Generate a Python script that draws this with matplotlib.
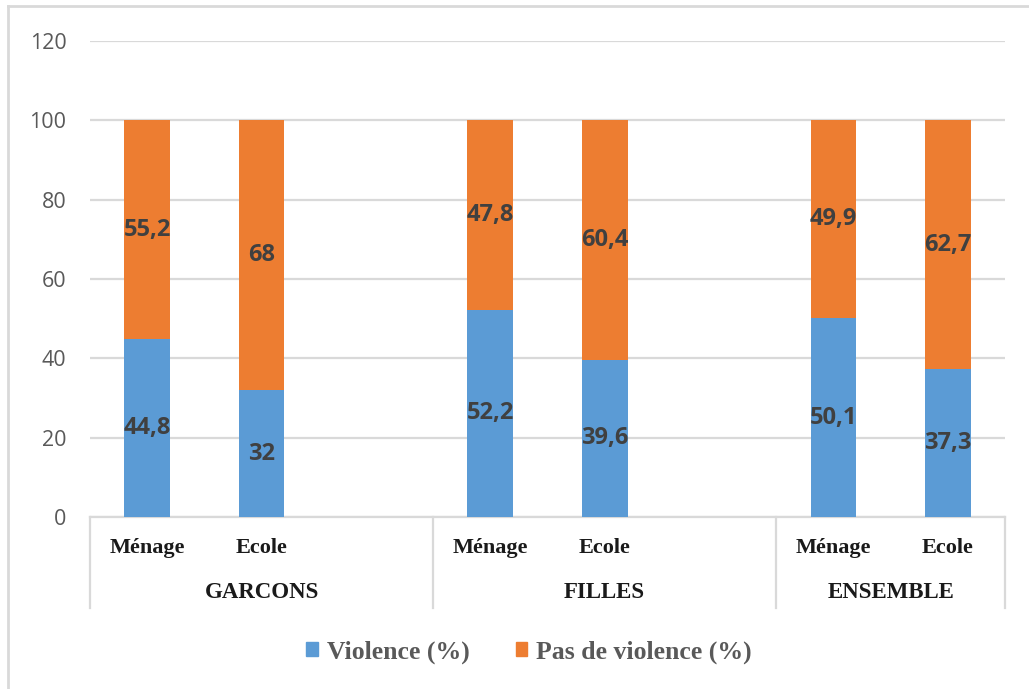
import matplotlib
matplotlib.use("Agg")
import matplotlib.pyplot as plt
from matplotlib.lines import Line2D
from matplotlib.patches import Patch
import numpy as np

# Data
groups = ["GARCONS", "FILLES", "ENSEMBLE"]
places = ["Ménage", "Ecole"]
violence = [44.8, 32, 52.2, 39.6, 50.1, 37.3]
no_violence = [55.2, 68, 47.8, 60.4, 49.9, 62.7]
series_names = ["Violence (%)", "Pas de violence (%)"]
y_ticks = [0, 20, 40, 60, 80, 100, 120]

BLUE = "#5b9bd5"
ORANGE = "#ed7d31"
GRID = "#d9d9d9"
TICK = "#595959"
LABEL = "#404040"

fig = plt.figure(figsize=(10.29, 6.89), dpi=100)
ax = fig.add_axes([90 / 1029, 1 - 517 / 689, 915 / 1029, 476 / 689])

# Slot layout: each group has Ménage, Ecole and a spacer slot (none after the last group)
slots_per_group = 3
n_slots = slots_per_group * len(groups) - 1
positions = []
for g in range(len(groups)):
    for p in range(len(places)):
        positions.append(g * slots_per_group + p)
positions = np.array(positions)

width = 0.4
ax.bar(positions, violence, width, color=BLUE, zorder=3)
ax.bar(positions, no_violence, width, bottom=violence, color=ORANGE, zorder=3)

def fmt(v):
    s = f"{v:g}"
    return s.replace(".", ",")

for x, v, nv in zip(positions, violence, no_violence):
    ax.text(x, v / 2, fmt(v), ha="center", va="center", fontsize=17,
            fontweight="bold", color=LABEL, family="Open Sans", zorder=4)
    ax.text(x, v + nv / 2, fmt(nv), ha="center", va="center", fontsize=17,
            fontweight="bold", color=LABEL, family="Open Sans", zorder=4)

ax.set_xlim(-0.5, n_slots - 0.5)
ax.set_ylim(0, 120)
ax.set_yticks(y_ticks)
ax.set_yticklabels([str(t) for t in y_ticks], fontsize=15.5, color=TICK,
                   family="Open Sans")
ax.tick_params(axis="y", length=0, pad=17)
ax.set_xticks([])
ax.yaxis.grid(True, color=GRID, linewidth=1.6, zorder=0)
for side in ["left", "right", "top"]:
    ax.spines[side].set_visible(False)
ax.spines["bottom"].set_color(GRID)
ax.spines["bottom"].set_linewidth(1.6)

# Two-level category labels below the axis
trans = ax.get_xaxis_transform()
sub_y = -31 / 476
grp_y = -76 / 476
sep_bottom = -91 / 476
serif = "Liberation Serif"
for i, x in enumerate(positions):
    ax.text(x, sub_y, places[i % 2], transform=trans, ha="center", va="center",
            fontsize=16, fontweight="bold", color="#1a1a1a", family=serif)
bounds = [-0.5]
for g in range(len(groups)):
    left = g * slots_per_group - 0.5
    right = min(left + slots_per_group, n_slots - 0.5)
    bounds.append(right)
    ax.text((left + right) / 2, grp_y, groups[g], transform=trans, ha="center",
            va="center", fontsize=16.5, fontweight="bold", color="#1a1a1a",
            family=serif)
for b in bounds:
    ax.add_line(Line2D([b, b], [0, sep_bottom], transform=trans, color=GRID,
                       linewidth=1.6, clip_on=False))

# Legend
handles = [Patch(facecolor=BLUE, edgecolor=BLUE),
           Patch(facecolor=ORANGE, edgecolor=ORANGE)]
leg = fig.legend(handles, series_names, loc="center", ncol=2,
                 bbox_to_anchor=(529 / 1029, 1 - 652 / 689), frameon=False,
                 prop={"family": serif, "weight": "bold", "size": 18.5},
                 handlelength=0.45, handleheight=0.45, handletextpad=0.35,
                 columnspacing=1.8)
for t in leg.get_texts():
    t.set_color(TICK)

# Chart frame (left and top edges)
fig.add_artist(Line2D([8 / 1029, 8 / 1029], [0, 1 - 6 / 689],
                      transform=fig.transFigure, color=GRID, linewidth=2))
fig.add_artist(Line2D([8 / 1029, 1], [1 - 6 / 689, 1 - 6 / 689],
                      transform=fig.transFigure, color=GRID, linewidth=2))

fig.savefig("out.png", dpi=100)
